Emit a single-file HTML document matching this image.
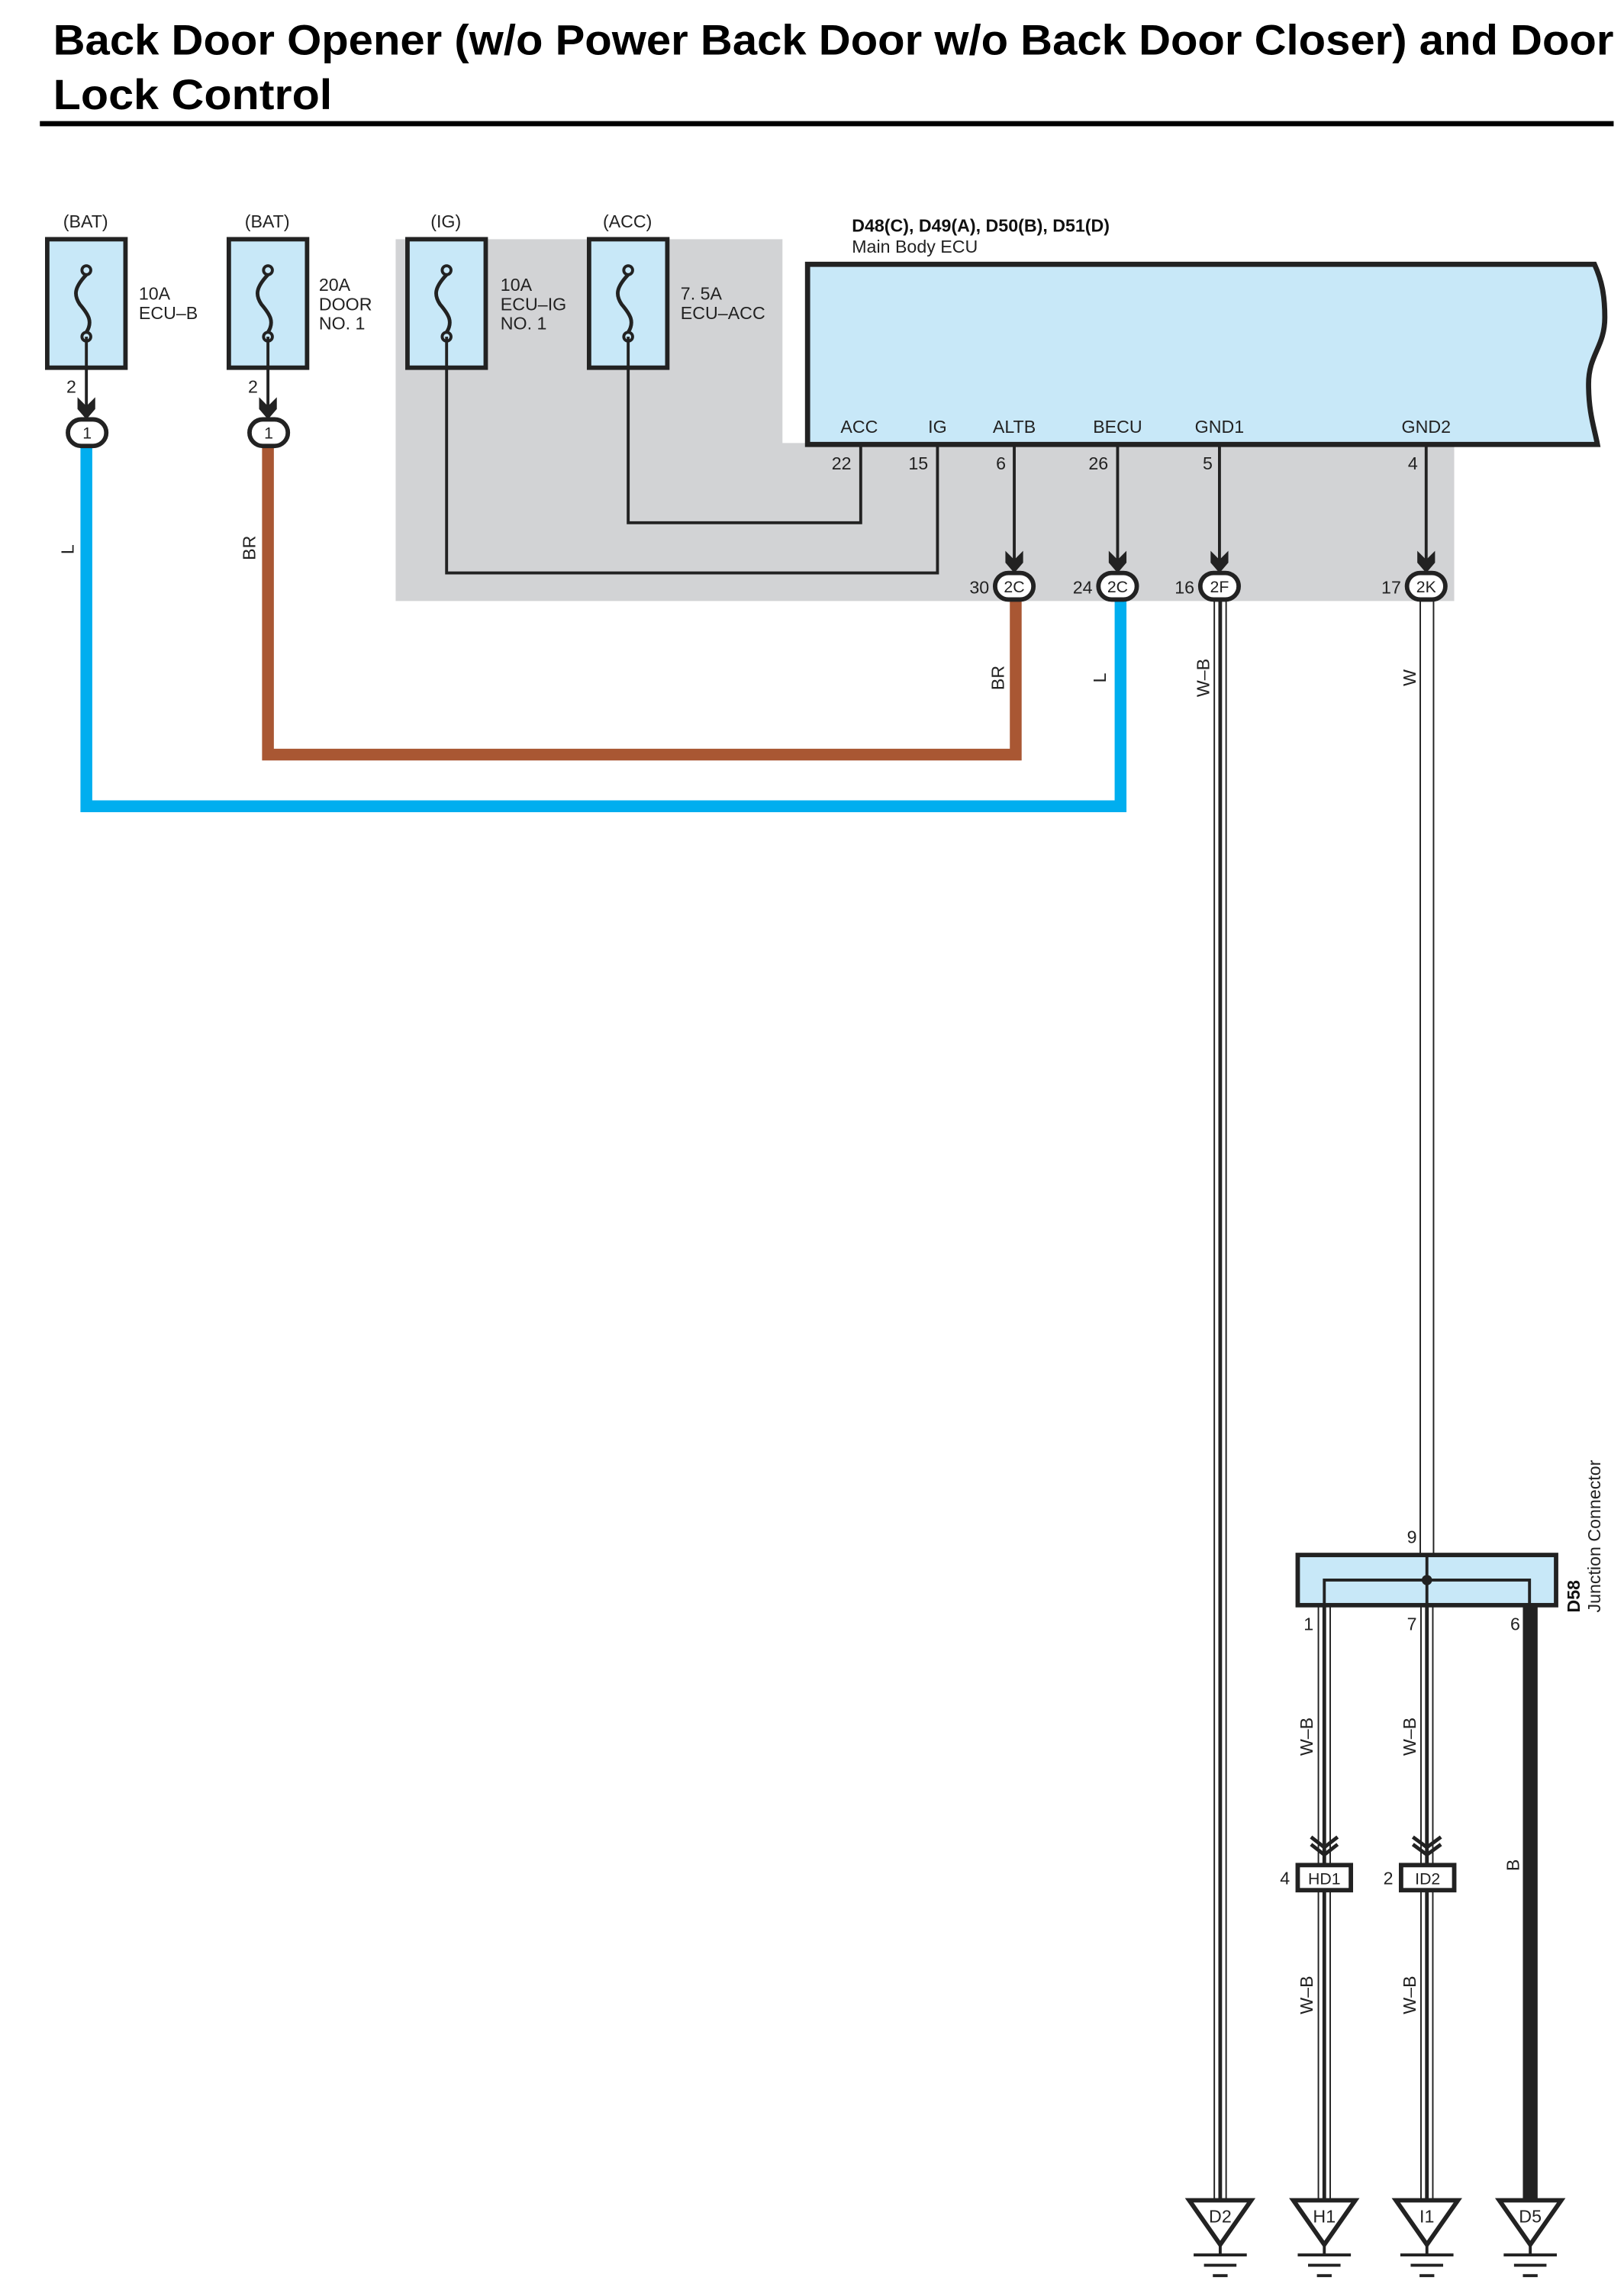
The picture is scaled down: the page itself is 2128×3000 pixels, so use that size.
<!DOCTYPE html>
<html><head><meta charset="utf-8"><style>
html,body{margin:0;padding:0;background:#fff;}
svg{display:block;}
text{font-family:"Liberation Sans",Arial,sans-serif;fill:#222;}
</style></head><body>
<svg width="2128" height="3000" viewBox="0 0 1100 1550.75" preserveAspectRatio="none" xmlns="http://www.w3.org/2000/svg">
<defs>
<g id="fuse">
  <rect x="0" y="0" width="53" height="87" fill="#c8e8f8" stroke="#222" stroke-width="3"/>
  <circle cx="26.5" cy="21" r="3" fill="none" stroke="#222" stroke-width="2"/>
  <circle cx="26.5" cy="66" r="3" fill="none" stroke="#222" stroke-width="2"/>
  <path d="M26.5 24 C18 33,18 38,22 44 C28 51,31 56,26.5 63" fill="none" stroke="#222" stroke-width="2.5"/>
</g>
<g id="arr"><path d="M-6 -12 L0 -6 L6 -12 L6 -4 L0 3 L-6 -4 Z" fill="#222"/></g>
<g id="gnd">
  <path d="M-21 0 L21 0 L0 30 Z" fill="#fff" stroke="#222" stroke-width="3" stroke-linejoin="miter"/>
  <line x1="0" y1="30" x2="0" y2="37" stroke="#222" stroke-width="2"/>
  <line x1="-18" y1="37" x2="18" y2="37" stroke="#222" stroke-width="2"/>
  <line x1="-11" y1="44" x2="11" y2="44" stroke="#222" stroke-width="2"/>
  <line x1="-5" y1="51" x2="5" y2="51" stroke="#222" stroke-width="2"/>
</g>
</defs>

<!-- title -->
<text x="36" y="37" font-size="29" font-weight="bold" textLength="1057" lengthAdjust="spacingAndGlyphs" style="fill:#000">Back Door Opener (w/o Power Back Door w/o Back Door Closer) and Door</text>
<text x="36" y="74" font-size="29" font-weight="bold" textLength="189" lengthAdjust="spacingAndGlyphs" style="fill:#000">Lock Control</text>
<rect x="27" y="82" width="1066" height="3.5" fill="#000"/>

<!-- gray region -->
<path d="M268 162 H530 V300 H985 V407 H268 Z" fill="#d2d3d5"/>

<!-- fuses -->
<use href="#fuse" x="32" y="162"/>
<use href="#fuse" x="155" y="162"/>
<use href="#fuse" x="276" y="162"/>
<use href="#fuse" x="399" y="162"/>
<g font-size="12" text-anchor="middle">
<text x="58" y="154">(BAT)</text><text x="181" y="154">(BAT)</text><text x="302" y="154">(IG)</text><text x="425" y="154">(ACC)</text>
</g>
<g font-size="12">
<text x="94" y="203">10A</text><text x="94" y="216">ECU–B</text>
<text x="216" y="197">20A</text><text x="216" y="210">DOOR</text><text x="216" y="223">NO. 1</text>
<text x="339" y="197">10A</text><text x="339" y="210">ECU–IG</text><text x="339" y="223">NO. 1</text>
<text x="461" y="203">7. 5A</text><text x="461" y="216">ECU–ACC</text>
</g>

<!-- fuse outputs to pills -->
<g stroke="#222" stroke-width="2" fill="none">
<line x1="58.5" y1="228" x2="58.5" y2="278"/>
<line x1="181.5" y1="228" x2="181.5" y2="278"/>
<path d="M302.5 228 V388 H635 V301"/>
<path d="M425.5 228 V354 H583 V301"/>
</g>
<use href="#arr" x="58.5" y="281"/>
<use href="#arr" x="181.5" y="281"/>
<text x="45" y="266" font-size="12">2</text>
<text x="168" y="266" font-size="12">2</text>

<!-- blue and brown wires -->
<path d="M58.5 302 V546 H759 V405" fill="none" stroke="#00aeef" stroke-width="8" stroke-linejoin="miter"/>
<path d="M181.5 302 V511 H688 V405" fill="none" stroke="#a95733" stroke-width="8" stroke-linejoin="miter"/>

<!-- pills for fuses -->
<rect x="46" y="284" width="26" height="18" rx="9" fill="#fff" stroke="#222" stroke-width="3"/>
<rect x="169" y="284" width="26" height="18" rx="9" fill="#fff" stroke="#222" stroke-width="3"/>
<text x="59" y="297" font-size="11" text-anchor="middle">1</text>
<text x="182" y="297" font-size="11" text-anchor="middle">1</text>

<!-- ECU -->
<text x="577" y="157" font-size="12" font-weight="bold" style="fill:#111">D48(C), D49(A), D50(B), D51(D)</text>
<text x="577" y="171" font-size="12">Main Body ECU</text>
<path d="M547 179 H1080 C1085 190,1087 200,1087 215 C1087 235,1076 240,1076 260 C1076 280,1080 290,1082 301 H547 Z" fill="#c8e8f8" stroke="#222" stroke-width="3.5"/>
<g font-size="12" text-anchor="middle">
<text x="582" y="293">ACC</text><text x="635" y="293">IG</text><text x="687" y="293">ALTB</text>
<text x="757" y="293">BECU</text><text x="826" y="293">GND1</text><text x="966" y="293">GND2</text>
<text x="570" y="318">22</text><text x="622" y="318">15</text><text x="678" y="318">6</text>
<text x="744" y="318">26</text><text x="818" y="318">5</text><text x="957" y="318">4</text>
</g>
<g stroke="#222" stroke-width="2">
<line x1="687" y1="302" x2="687" y2="382"/>
<line x1="757" y1="302" x2="757" y2="382"/>
<line x1="826" y1="302" x2="826" y2="382"/>
<line x1="966" y1="302" x2="966" y2="382"/>
</g>
<use href="#arr" x="687" y="385"/><use href="#arr" x="757" y="385"/>
<use href="#arr" x="826" y="385"/><use href="#arr" x="966" y="385"/>

<!-- W-B wire from 2F -->
<line x1="826.5" y1="405" x2="826.5" y2="1490" stroke="#222" stroke-width="9"/>
<line x1="826.5" y1="405" x2="826.5" y2="1490" stroke="#fff" stroke-width="7"/>
<line x1="826.5" y1="405" x2="826.5" y2="1490" stroke="#222" stroke-width="2.5"/>
<!-- W wire from 2K -->
<line x1="966.5" y1="405" x2="966.5" y2="1053" stroke="#222" stroke-width="10"/>
<line x1="966.5" y1="405" x2="966.5" y2="1053" stroke="#fff" stroke-width="8"/>

<!-- pills on ECU -->
<g fill="#fff" stroke="#222" stroke-width="3">
<rect x="674" y="388" width="26" height="18" rx="9"/>
<rect x="744" y="388" width="26" height="18" rx="9"/>
<rect x="813" y="388" width="26" height="18" rx="9"/>
<rect x="953" y="388" width="26" height="18" rx="9"/>
</g>
<g font-size="11" text-anchor="middle">
<text x="687" y="401">2C</text><text x="757" y="401">2C</text><text x="826" y="401">2F</text><text x="966" y="401">2K</text>
</g>
<g font-size="12" text-anchor="end">
<text x="670" y="402">30</text><text x="740" y="402">24</text><text x="809" y="402">16</text><text x="949" y="402">17</text>
</g>

<!-- rotated wire labels -->
<g font-size="12" text-anchor="middle">
<text transform="translate(50,372) rotate(-90)">L</text>
<text transform="translate(173,371) rotate(-90)">BR</text>
<text transform="translate(680,459) rotate(-90)">BR</text>
<text transform="translate(749,459) rotate(-90)">L</text>
<text transform="translate(819,459) rotate(-90)">W–B</text>
<text transform="translate(959,459) rotate(-90)">W</text>
<text transform="translate(889,1176) rotate(-90)">W–B</text>
<text transform="translate(959,1176) rotate(-90)">W–B</text>
<text transform="translate(889,1351) rotate(-90)">W–B</text>
<text transform="translate(959,1351) rotate(-90)">W–B</text>
<text transform="translate(1029,1263) rotate(-90)">B</text>
</g>

<!-- W-B wires below junction -->
<g>
<line x1="897" y1="1087" x2="897" y2="1490" stroke="#222" stroke-width="9"/>
<line x1="897" y1="1087" x2="897" y2="1490" stroke="#fff" stroke-width="7"/>
<line x1="897" y1="1087" x2="897" y2="1490" stroke="#222" stroke-width="2.5"/>
<line x1="966.5" y1="1087" x2="966.5" y2="1490" stroke="#222" stroke-width="9"/>
<line x1="966.5" y1="1087" x2="966.5" y2="1490" stroke="#fff" stroke-width="7"/>
<line x1="966.5" y1="1087" x2="966.5" y2="1490" stroke="#222" stroke-width="2.5"/>
<line x1="1036.5" y1="1087" x2="1036.5" y2="1490" stroke="#222" stroke-width="10"/>
</g>

<!-- junction D58 -->
<rect x="879" y="1053" width="175" height="34" fill="#c8e8f8" stroke="#222" stroke-width="3"/>
<path d="M897 1087 V1070 H1036 V1087" fill="none" stroke="#222" stroke-width="2"/>
<line x1="966.5" y1="1053" x2="966.5" y2="1087" stroke="#222" stroke-width="2"/>
<circle cx="966.5" cy="1070" r="3.5" fill="#222"/>
<g font-size="12">
<text x="953" y="1045">9</text>
<text x="883" y="1104">1</text><text x="953" y="1104">7</text><text x="1023" y="1104">6</text>
</g>
<text transform="translate(1070,1092) rotate(-90)" font-size="12" font-weight="bold" style="fill:#111">D58</text>
<text transform="translate(1084,1092) rotate(-90)" font-size="12">Junction Connector</text>

<!-- HD1 / ID2 connectors -->
<g stroke="#222" stroke-width="2.5" fill="none">
<path d="M888 1244 L897 1251 L906 1244"/><path d="M888 1249 L897 1256 L906 1249"/>
<path d="M957 1244 L966.5 1251 L976 1244"/><path d="M957 1249 L966.5 1256 L976 1249"/>
</g>
<rect x="879" y="1263" width="36" height="17" fill="#fff" stroke="#222" stroke-width="3"/>
<rect x="949" y="1263" width="36" height="17" fill="#fff" stroke="#222" stroke-width="3"/>
<g font-size="11" text-anchor="middle">
<text x="897" y="1276">HD1</text><text x="967" y="1276">ID2</text>
</g>
<text x="867" y="1276" font-size="12">4</text>
<text x="937" y="1276" font-size="12">2</text>

<!-- grounds -->
<use href="#gnd" x="826.5" y="1490"/>
<use href="#gnd" x="897" y="1490"/>
<use href="#gnd" x="966.5" y="1490"/>
<use href="#gnd" x="1036.5" y="1490"/>
<g font-size="12" text-anchor="middle">
<text x="826.5" y="1505">D2</text><text x="897" y="1505">H1</text><text x="966.5" y="1505">I1</text><text x="1036.5" y="1505">D5</text>
</g>
</svg>
</body></html>
